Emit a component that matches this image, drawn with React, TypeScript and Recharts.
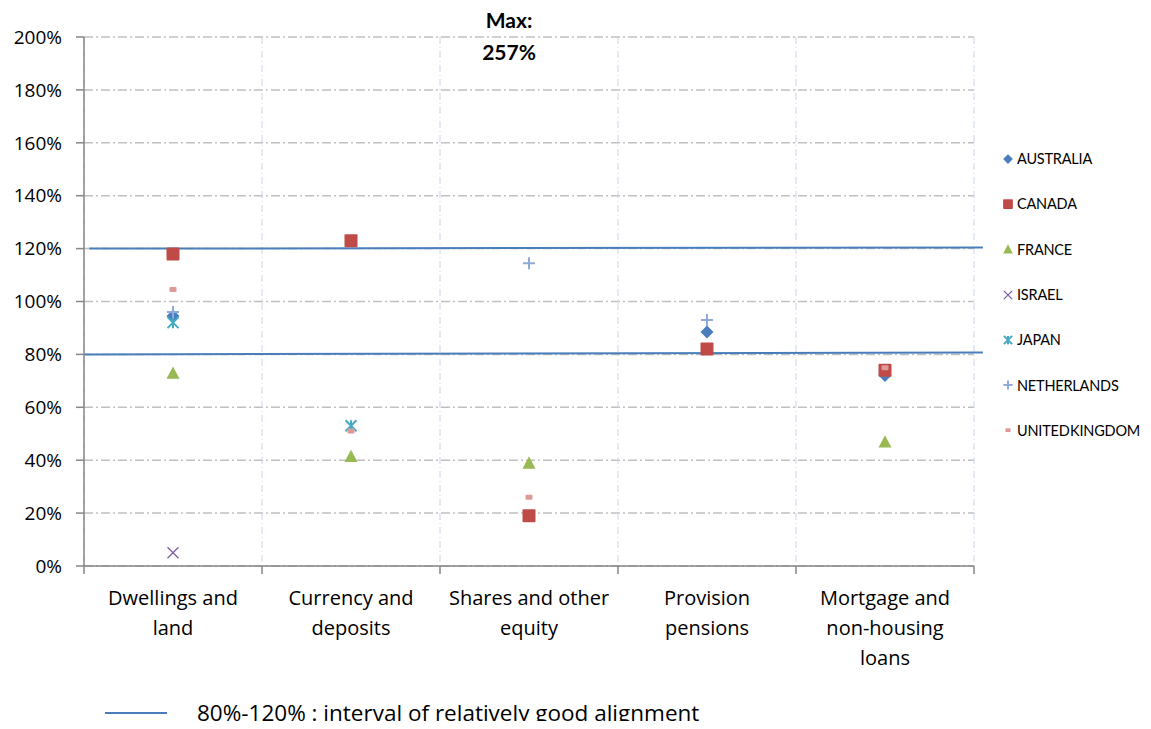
import React from 'react';
import {
  ComposedChart,
  Scatter,
  XAxis,
  YAxis,
  CartesianGrid,
  ReferenceLine,
} from 'recharts';

// category labels, already split into lines as on the original chart
const categoryLines = [
  ['Dwellings and', 'land'],
  ['Currency and', 'deposits'],
  ['Shares and other', 'equity'],
  ['Provision', 'pensions'],
  ['Mortgage and', 'non-housing', 'loans'],
];

// ratio in % per category (null = no value)
const australia = [94.5, null, null, 88.5, 72];
const canada = [118, 123, 19, 82, 74];
const france = [73, 41.5, 39, null, 47];
const israel = [5, null, null, null, null];
const japan = [92, 53, null, null, null];
const netherlands = [96, null, 114.5, 93, null];
const unitedKingdom = [104.5, 51, 26, null, 75];

const yTicks = [0, 20, 40, 60, 80, 100, 120, 140, 160, 180, 200];
const boundTicks = [0, 1, 2, 3, 4, 5];
const labelTicks = [0.5, 1.5, 2.5, 3.5, 4.5];
// band lines as drawn in the source (start / end value, they rise a little)
const bandLow = [80, 80.7];
const bandHigh = [120, 120.4];
const bandX = [0.03, 5.05];

const FONT = 'Lato, "Open Sans", sans-serif';
const WIDE = '"Open Sans", Lato, sans-serif';

type Kind = 'diamond' | 'square' | 'triangle' | 'x' | 'asterisk' | 'plus' | 'dash';

const series: { name: string; values: (number | null)[]; kind: Kind; color: string }[] = [
  { name: 'AUSTRALIA', values: australia, kind: 'diamond', color: '#4a7ebb' },
  { name: 'CANADA', values: canada, kind: 'square', color: '#be4b48' },
  { name: 'FRANCE', values: france, kind: 'triangle', color: '#98b954' },
  { name: 'ISRAEL', values: israel, kind: 'x', color: '#7d60a0' },
  { name: 'JAPAN', values: japan, kind: 'asterisk', color: '#46aac5' },
  { name: 'NETHERLANDS', values: netherlands, kind: 'plus', color: '#8eaadb' },
  { name: 'UNITED KINGDOM', values: unitedKingdom, kind: 'dash', color: '#dd9a98' },
];

const Marker = ({ kind, cx, cy, color, s = 1 }: { kind: Kind; cx: number; cy: number; color: string; s?: number }) => {
  switch (kind) {
    case 'diamond': {
      const r = 6.5 * s;
      return <path d={`M${cx},${cy - r} L${cx + r},${cy} L${cx},${cy + r} L${cx - r},${cy} Z`} fill={color} />;
    }
    case 'square': {
      const r = 6.5 * s;
      return <rect x={cx - r} y={cy - r} width={2 * r} height={2 * r} rx={1} fill={color} />;
    }
    case 'triangle': {
      const r = 6.5 * s;
      return <path d={`M${cx},${cy - r} L${cx + r},${cy + r * 0.9} L${cx - r},${cy + r * 0.9} Z`} fill={color} />;
    }
    case 'x': {
      const r = 5.5 * s;
      return (
        <path d={`M${cx - r},${cy - r} L${cx + r},${cy + r} M${cx + r},${cy - r} L${cx - r},${cy + r}`} stroke={color} strokeWidth={1.3} fill="none" />
      );
    }
    case 'asterisk': {
      const r = 5.5 * s;
      return (
        <path
          d={`M${cx - r},${cy - r} L${cx + r},${cy + r} M${cx + r},${cy - r} L${cx - r},${cy + r} M${cx},${cy - r} L${cx},${cy + r}`}
          stroke={color}
          strokeWidth={2}
          fill="none"
        />
      );
    }
    case 'plus': {
      const r = 6 * s;
      return <path d={`M${cx - r},${cy} L${cx + r},${cy} M${cx},${cy - r} L${cx},${cy + r}`} stroke={color} strokeWidth={2} fill="none" />;
    }
    case 'dash':
    default:
      return <rect x={cx - 3.5 * s} y={cy - 2.5 * s} width={7 * s} height={5 * s} rx={1} fill={color} />;
  }
};

const CategoryTick = (props: any) => {
  const { x, y, payload } = props;
  const lines = categoryLines[Math.floor(payload.value)] || [];
  return (
    <text x={x} y={y} textAnchor="middle" fontFamily={WIDE} fontSize={20} fill="#000">
      {lines.map((l, i) => (
        <tspan key={i} x={x} dy={i === 0 ? 31 : 30}>
          {l}
        </tspan>
      ))}
    </text>
  );
};

export default function App() {
  return (
    <div style={{ position: 'relative', width: 1135, height: 713, fontFamily: FONT }}>
      <ComposedChart width={1135} height={713} margin={{ top: 29, right: 169, bottom: 0, left: 0 }}>
        <CartesianGrid xAxisId="b" vertical={false} stroke="#c0c0c0" strokeWidth={1.5} strokeDasharray="9 3 2 3" />
        <CartesianGrid xAxisId="b" horizontal={false} stroke="#c8d6ee" strokeWidth={1} strokeDasharray="7 3 1 3" />
        <XAxis
          xAxisId="b"
          dataKey="x"
          type="number"
          domain={[0, 5]}
          allowDataOverflow
          ticks={boundTicks}
          height={8}
          tick={() => <g />}
          tickSize={8}
          axisLine={{ stroke: '#868686', strokeWidth: 1.5 }}
          tickLine={{ stroke: '#868686', strokeWidth: 1.5 }}
        />
        <XAxis
          xAxisId="l"
          dataKey="x"
          type="number"
          domain={[0, 5]}
          allowDataOverflow
          ticks={labelTicks}
          height={147}
          tick={<CategoryTick />}
          tickSize={0}
          tickMargin={0}
          axisLine={false}
          tickLine={false}
        />
        <YAxis
          dataKey="y"
          type="number"
          domain={[0, 200]}
          allowDataOverflow
          ticks={yTicks}
          width={76}
          tickFormatter={(v) => `${v}%`}
          tick={{ fill: '#000', fontSize: 19, fontFamily: WIDE }}
          tickSize={8}
          tickMargin={14}
          axisLine={{ stroke: '#868686', strokeWidth: 1.5 }}
          tickLine={{ stroke: '#868686', strokeWidth: 1.5 }}
        />
        <ReferenceLine
          xAxisId="b"
          segment={[
            { x: bandX[0], y: bandHigh[0] },
            { x: bandX[1], y: bandHigh[1] },
          ]}
          ifOverflow="visible"
          stroke="#4a7ebb"
          strokeWidth={2}
        />
        <ReferenceLine
          xAxisId="b"
          segment={[
            { x: 0, y: bandLow[0] },
            { x: bandX[1], y: bandLow[1] },
          ]}
          ifOverflow="visible"
          stroke="#4a7ebb"
          strokeWidth={2}
        />
        {series.map((s) => (
          <Scatter
            key={s.name}
            xAxisId="b"
            name={s.name}
            data={s.values
              .map((v, i) => (v === null ? null : { x: i + 0.5, y: v }))
              .filter((d) => d !== null)}
            fill={s.color}
            isAnimationActive={false}
            shape={(p: any) => <Marker kind={s.kind} cx={p.cx} cy={p.cy} color={s.color} />}
          />
        ))}
      </ComposedChart>

      {/* note on the clipped maximum */}
      <div
        style={{
          position: 'absolute',
          left: 451,
          top: -4,
          width: 100,
          textAlign: 'center',
          fontWeight: 'bold',
          fontSize: 21,
          lineHeight: '32px',
        }}
      >
        Max:
        <br />
        257%
      </div>

      {/* series legend */}
      <div style={{ position: 'absolute', left: 992, top: 128 }}>
        {series.map((s) => (
          <div
            key={s.name}
            style={{
              display: 'flex',
              alignItems: 'center',
              height: 45.3,
              fontSize: 14.5,
              color: '#000',
              whiteSpace: 'nowrap',
              wordSpacing: -3,
              letterSpacing: -0.2,
            }}
          >
            <svg width={17} height={14}>
              <Marker kind={s.kind} cx={8} cy={7} color={s.color} s={0.75} />
            </svg>
            <span>{s.name}</span>
          </div>
        ))}
      </div>

      {/* band legend */}
      <div
        style={{
          position: 'absolute',
          left: 97,
          top: 689,
          display: 'flex',
          alignItems: 'center',
          fontSize: 22.5,
          fontFamily: WIDE,
          whiteSpace: 'nowrap',
        }}
      >
        <svg width={92} height={28}>
          <line x1={0} x2={62} y1={14} y2={14} stroke="#4a7ebb" strokeWidth={2} />
        </svg>
        <span>80%-120% : interval of relatively good alignment</span>
      </div>
    </div>
  );
}
